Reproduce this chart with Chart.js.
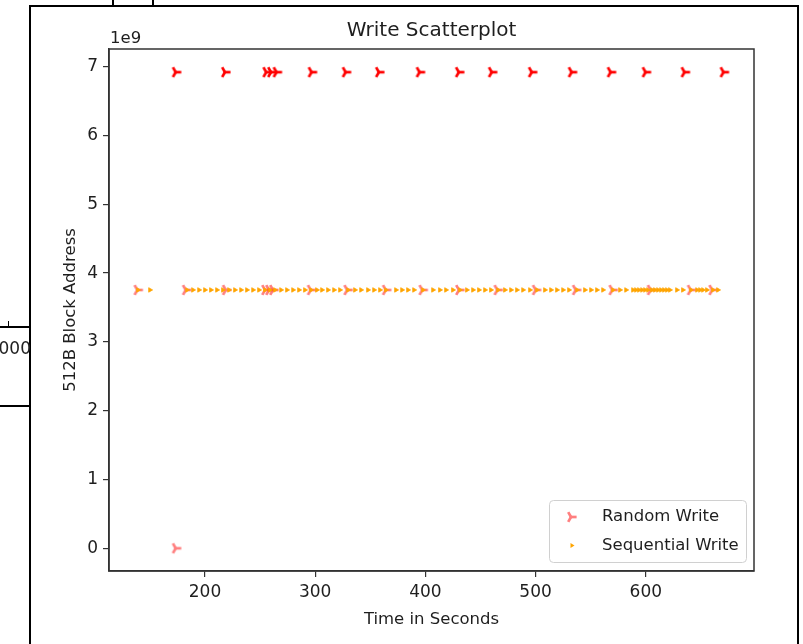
<!DOCTYPE html>
<html><head><meta charset="utf-8">
<script src="https://cdn.jsdelivr.net/npm/chart.js@4.4.0/dist/chart.umd.min.js"></script>
<style>
html,body{margin:0;padding:0;background:#fff;}
#wrap{position:relative;width:803px;height:644px;overflow:hidden;background:#fff;}
#c{position:absolute;left:0;top:0;}
.ln{position:absolute;background:#000;}
.clip{position:absolute;left:0;top:338px;width:30px;height:24px;overflow:hidden;}
.clip span{position:absolute;right:-1px;top:0;font-family:"DejaVu Sans";font-size:17px;color:#222;white-space:nowrap;}
</style></head><body>
<div id="wrap">
<canvas id="c" width="803" height="644"></canvas>
<div class="ln" style="left:29px;top:5px;width:2px;height:639px"></div>
<div class="ln" style="left:29px;top:5px;width:770px;height:2px"></div>
<div class="ln" style="left:797px;top:5px;width:2px;height:639px"></div>
<div class="ln" style="left:112px;top:0;width:1.5px;height:6px"></div>
<div class="ln" style="left:152px;top:0;width:1.5px;height:6px"></div>
<div class="ln" style="left:0;top:326px;width:30px;height:2px"></div>
<div class="ln" style="left:0;top:405px;width:30px;height:2px"></div>
<div class="ln" style="left:8px;top:321px;width:1px;height:6px"></div>
<div class="clip"><span>000</span></div>
</div>
<script>
// ---- data ----
const chartTitle = 'Write Scatterplot';
const xTitle = 'Time in Seconds';
const yTitle = '512B Block Address';
const xTicks = [200, 300, 400, 500, 600];
const yTicks = [0, 1e9, 2e9, 3e9, 4e9, 5e9, 6e9, 7e9];

const randomHighAddress = 6.92e9;
const randomHighTimes = [174.3, 219.0, 256.5, 260.8, 265.8, 297.6, 328.5, 358.7, 395.6, 431.2, 461.1, 497.4, 533.6, 569.0, 600.7, 636.0, 671.4];
const randomMidAddress = 3.755e9;
const randomMidTimes = [139.5, 183.4, 219.7, 255.4, 259.0, 262.6, 296.8, 330.0, 364.9, 398.1, 431.4, 466.2, 501.0, 537.3, 570.5, 605.3, 641.6, 661.2];
const randomLowAddress = 0;
const randomLowTimes = [174.3];

const seqAddress = 3.755e9;
const seqTimes = [139.2, 150.1, 183.7, 189.1, 194.6, 200.0, 205.4, 210.9, 216.3, 221.8, 227.2, 232.7, 238.1, 243.6, 249.0, 254.4, 259.0, 263.5, 269.0, 274.4, 279.9, 285.3, 290.7, 296.2, 301.6, 306.2, 311.6, 317.1, 322.5, 329.8, 336.1, 341.6, 347.9, 353.4, 358.8, 364.2, 373.3, 378.8, 384.2, 389.7, 397.8, 406.9, 413.2, 418.7, 425.0, 431.4, 437.7, 443.2, 448.6, 454.1, 459.5, 465.9, 472.2, 477.7, 483.1, 488.6, 494.9, 501.3, 508.5, 514.0, 519.4, 524.9, 530.3, 537.6, 544.8, 550.3, 555.7, 561.2, 570.2, 576.6, 582.1, 588.4, 591.1, 593.8, 596.6, 599.3, 602.0, 605.6, 608.3, 611.1, 613.8, 616.5, 619.2, 621.9, 628.3, 633.7, 641.0, 646.5, 649.2, 651.9, 655.5, 660.9, 665.5];

// ---- build ----
const toPts = (times, addr) => times.map(t => ({x: t, y: addr}));
const randomPoints = [].concat(toPts(randomHighTimes, randomHighAddress), toPts(randomMidTimes, randomMidAddress), toPts(randomLowTimes, randomLowAddress));
const seqPoints = toPts(seqTimes, seqAddress);

function triRight(color) {
  const c = document.createElement('canvas');
  c.width = 16; c.height = 16;
  const g = c.getContext('2d');
  const cx = 7, cy = 8, r = 5.6;
  g.strokeStyle = color; g.lineWidth = 2.7; g.lineCap = 'butt';
  [0, 120, 240].forEach(a => {
    const rad = a * Math.PI / 180;
    g.beginPath();
    g.moveTo(cx, cy);
    g.lineTo(cx + r * Math.cos(rad), cy + r * Math.sin(rad));
    g.stroke();
  });
  // fill centre so overlapping strokes don't darken unevenly
  return c;
}
function triRightUniform(rgb, alpha) {
  const solid = triRight('rgb(' + rgb + ')');
  const c = document.createElement('canvas');
  c.width = solid.width; c.height = solid.height;
  const g = c.getContext('2d');
  g.globalAlpha = alpha;
  g.drawImage(solid, 0, 0);
  return c;
}
const triSolid = triRight('rgb(255,0,0)');
const triLight = triRightUniform('255,0,0', 0.5);

const F = 'DejaVu Sans';
const TXT = '#1e1e1e';
const AX = '#333';
const font = {family: F, size: 16.5, weight: 'normal'};

const framePlugin = {
  id: 'frame',
  afterDatasetsDraw(chart) {
    const {ctx, chartArea: a} = chart;
    ctx.save();
    ctx.strokeStyle = AX; ctx.lineWidth = 1.5;
    ctx.strokeRect(a.left, a.top, a.right - a.left, a.bottom - a.top);
    ctx.fillStyle = TXT;
    ctx.font = '20px "DejaVu Sans"';
    ctx.textAlign = 'center'; ctx.textBaseline = 'alphabetic';
    ctx.fillText(chartTitle, (a.left + a.right) / 2, 36);
    ctx.font = '16.5px "DejaVu Sans"';
    ctx.textAlign = 'left';
    ctx.fillText('1e9', a.left + 1, a.top - 6);
    // legend
    const lx = 549.5, ly = 500.5, lw = 197, lh = 62, rr = 4;
    ctx.beginPath();
    ctx.moveTo(lx + rr, ly); ctx.lineTo(lx + lw - rr, ly); ctx.quadraticCurveTo(lx + lw, ly, lx + lw, ly + rr);
    ctx.lineTo(lx + lw, ly + lh - rr); ctx.quadraticCurveTo(lx + lw, ly + lh, lx + lw - rr, ly + lh);
    ctx.lineTo(lx + rr, ly + lh); ctx.quadraticCurveTo(lx, ly + lh, lx, ly + lh - rr);
    ctx.lineTo(lx, ly + rr); ctx.quadraticCurveTo(lx, ly, lx + rr, ly);
    ctx.closePath();
    ctx.fillStyle = 'rgba(255,255,255,0.8)'; ctx.fill();
    ctx.strokeStyle = '#d0d0d0'; ctx.lineWidth = 1; ctx.stroke();
    const ds = chart.data.datasets;
    ctx.drawImage(triLight, 572 - 8, 517 - 8);
    ctx.fillStyle = 'orange';
    ctx.beginPath(); ctx.moveTo(574.5, 545.5); ctx.lineTo(570.5, 543); ctx.lineTo(570.5, 548); ctx.closePath(); ctx.fill();
    ctx.fillStyle = TXT; ctx.textBaseline = 'middle';
    ctx.fillText(ds[0].label, 602, 517);
    ctx.fillText(ds[1].label, 602, 545.5);
    ctx.restore();
  }
};

new Chart(document.getElementById('c'), {
  type: 'scatter',
  data: {
    datasets: [
      {
        label: 'Random Write', data: randomPoints, order: 2,
        pointStyle: (c) => (c.raw && c.raw.y > 5e9) ? triSolid : triLight,
        pointRadius: 6, pointHoverRadius: 6, backgroundColor: 'rgba(255,0,0,0.5)', borderColor: 'rgba(255,0,0,0.5)'
      },
      {
        label: 'Sequential Write', data: seqPoints, order: 1,
        pointStyle: 'triangle', rotation: 90, pointRadius: 2.6, pointHoverRadius: 2.6,
        backgroundColor: 'orange', borderColor: 'orange', borderWidth: 0.8
      }
    ]
  },
  options: {
    responsive: false, animation: false, events: [],
    layout: {padding: {left: 31, top: 49, right: 49, bottom: 9}},
    plugins: {
      legend: {display: false}, tooltip: {enabled: false}, title: {display: false}
    },
    scales: {
      x: {
        type: 'linear', min: 112.9, max: 698.2,
        afterBuildTicks: s => { s.ticks = xTicks.map(v => ({value: v})); },
        afterFit: s => { s.height = 64; },
        grid: {drawOnChartArea: false, drawTicks: true, tickLength: 6, color: AX, lineWidth: 1.2},
        border: {display: true, color: AX, width: 1.5},
        ticks: {font: {family: F, size: 17}, color: TXT, padding: 5, maxRotation: 0, callback: v => String(v)},
        title: {display: true, text: xTitle, font: font, color: TXT, padding: {top: 0, bottom: 5}}
      },
      y: {
        type: 'linear', min: -0.33e9, max: 7.257e9,
        afterBuildTicks: s => { s.ticks = yTicks.map(v => ({value: v})); },
        afterFit: s => { s.width = 78; },
        grid: {drawOnChartArea: false, drawTicks: true, tickLength: 6, color: AX, lineWidth: 1.2},
        border: {display: true, color: AX, width: 1.5},
        ticks: {font: {family: F, size: 17}, color: TXT, padding: 5, callback: v => String(Math.round(v / 1e9))},
        title: {display: true, text: yTitle, font: font, color: TXT, padding: {top: 30, bottom: 0}}
      }
    }
  },
  plugins: [framePlugin]
});
</script>
</body></html>
